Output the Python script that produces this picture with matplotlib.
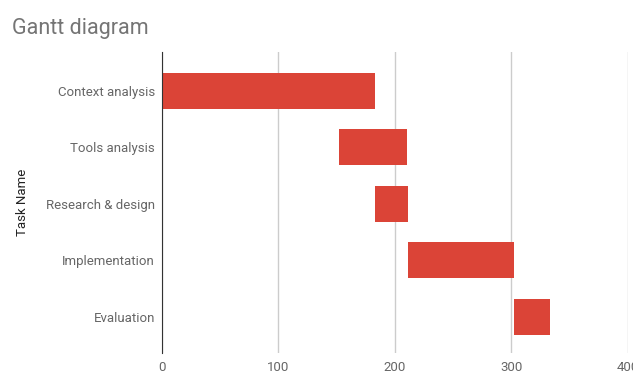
import matplotlib.pyplot as plt

tasks = ["Context analysis", "Tools analysis", "Research & design", "Implementation", "Evaluation"]
start = [0, 152, 183, 211, 302]
end = [183, 210, 211, 302, 333]
x_ticks = [0, 100, 200, 300, 400]

plt.rcParams['font.family'] = ['Roboto', 'DejaVu Sans']

fig = plt.figure(figsize=(6.33, 3.75), dpi=100)
ax = fig.add_axes([0.2559, 0.0587, 0.736, 0.8027])

durations = [e - s for s, e in zip(start, end)]
ax.barh(range(len(tasks)), durations, left=start, height=0.64, color="#db4437")

ax.set_yticks(range(len(tasks)))
ax.set_yticklabels(tasks)
ax.set_ylim(4.64, -0.69)
ax.set_xlim(0, 400)
ax.set_xticks(x_ticks)

ax.grid(axis="x", color="#cccccc", linewidth=1)
ax.set_axisbelow(True)
for side in ["top", "right", "bottom"]:
    ax.spines[side].set_visible(False)
ax.spines["left"].set_color("#333333")
ax.tick_params(axis="both", length=0, colors="#666666", labelsize=9.5)
ax.tick_params(axis="y", pad=5)
ax.tick_params(axis="x", pad=6)

ax.set_ylabel("Task Name", fontsize=9.5, color="#222222")
ax.yaxis.set_label_coords(-0.285, 0.5)

fig.text(0.019, 0.925, "Gantt diagram", fontsize=15.5, color="#757575", va="center", ha="left")

fig.savefig("out.png", dpi=100)
